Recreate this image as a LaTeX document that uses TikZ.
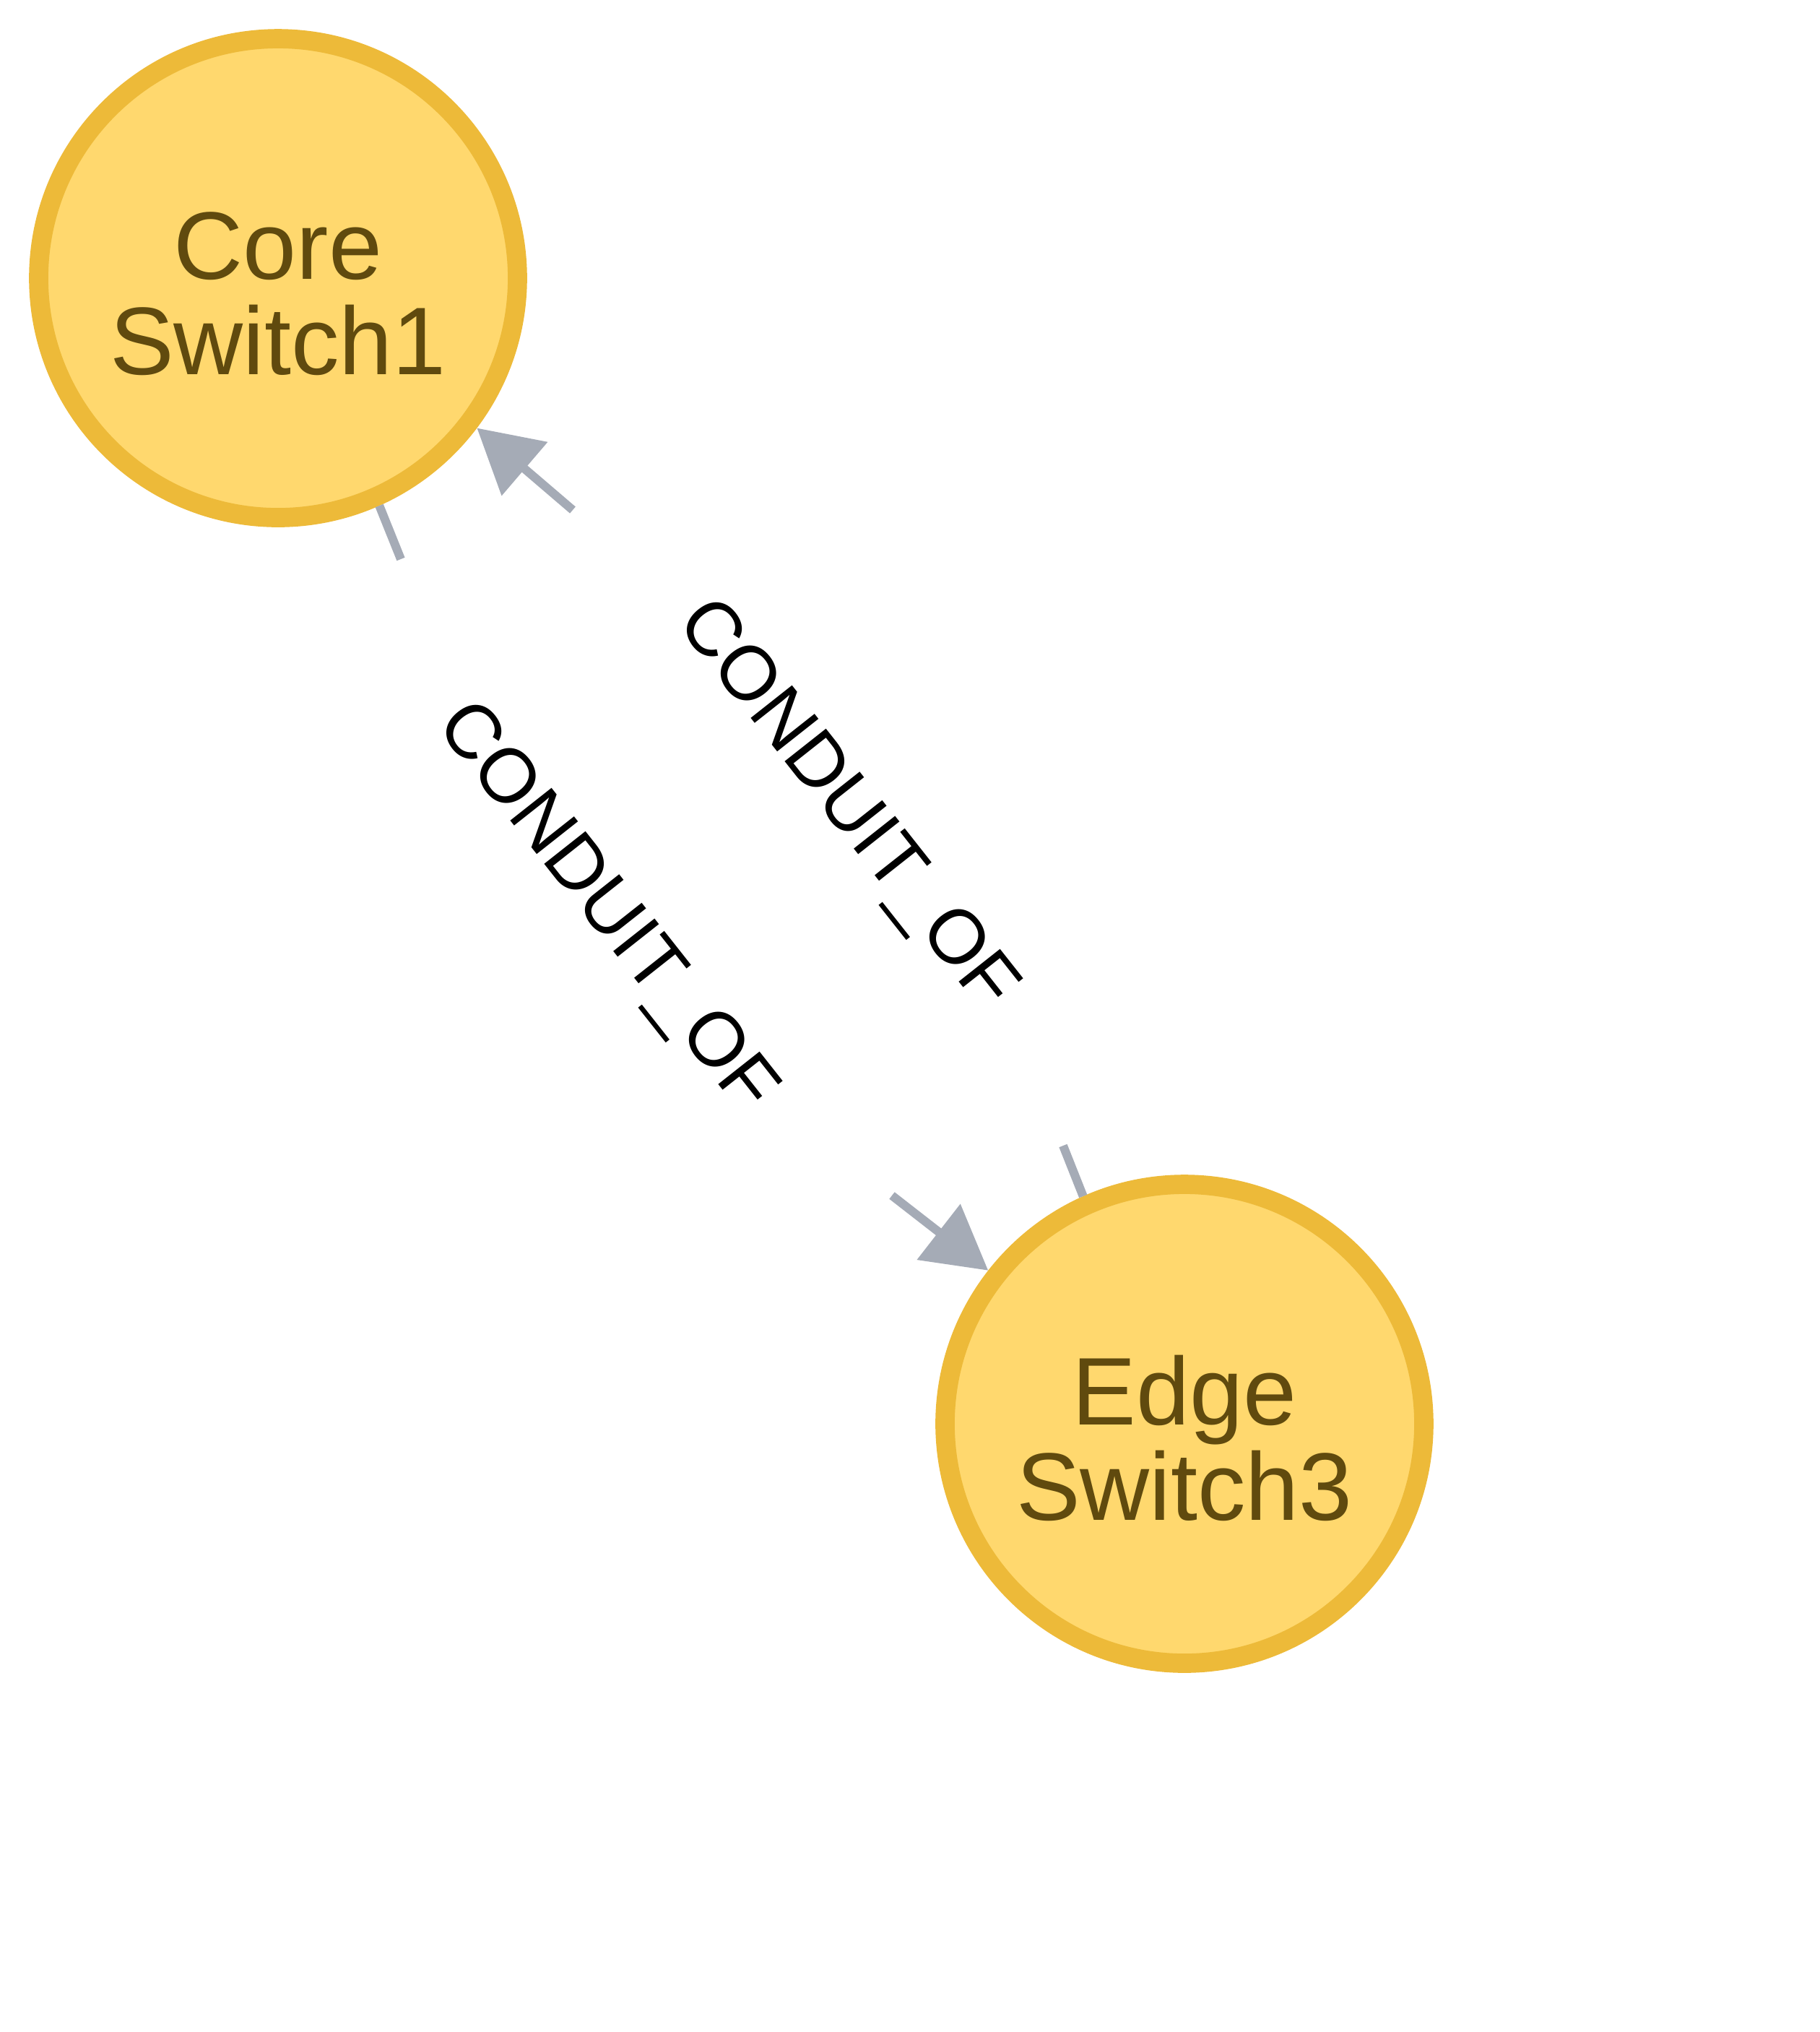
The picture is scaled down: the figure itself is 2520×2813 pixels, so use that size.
\documentclass[tikz,border=0pt]{standalone}
\usepackage{fontspec}
\setmainfont{Liberation Sans}
\usetikzlibrary{arrows.meta}
\definecolor{swfill}{HTML}{FFD86E}
\definecolor{swborder}{HTML}{EDBA39}
\definecolor{swtext}{HTML}{604A0E}
\definecolor{relgray}{HTML}{A5ABB6}
\begin{document}
\begin{tikzpicture}[x=0.1pt,y=-0.1pt,
  sw/.style={circle, draw=swborder, fill=swfill, line width=2.67pt, minimum size=66.3pt, inner sep=0pt},
  swlbl/.style={anchor=base, inner sep=0pt, text=swtext, font=\fontsize{13.3pt}{13.2pt}\selectfont},
  rel/.style={draw=relgray, line width=1.2pt},
  reltip/.style={-{Triangle[length=8.7pt,width=9.5pt]}, fill=relgray},
  rellbl/.style={anchor=base, inner sep=0pt, rotate=-51.7, text=black, font=\fontsize{10.6pt}{12pt}\selectfont}]
\useasboundingbox (0,0) rectangle (2520,2813);
% nodes
\node[sw] (core) at (385,385) {};
\node[swlbl] (coretop) at (385,386) {Core};
\node[swlbl] (corebot) at (385,518) {Switch1};
\node[sw] (edgesw) at (1640,1971) {};
\node[swlbl] (edgetop) at (1640,1972) {Edge};
\node[swlbl] (edgebot) at (1640,2104) {Switch3};
% free ends of the broken relationship lines
\coordinate (a1) at (555,774);
\coordinate (a2) at (1235,1655);
\coordinate (b1) at (1472,1586);
\coordinate (b2) at (793,706);
% Core Switch1 -> Edge Switch3
\draw[rel] (core.-66.8) -- (a1);
\draw[rel, reltip] (a2) -- (edgesw.142.2);
\node[rellbl] (lblA) at (816,1275) {CONDUIT\_OF};
% Edge Switch3 -> Core Switch1
\draw[rel] (edgesw.114.3) -- (b1);
\draw[rel, reltip] (b2) -- (core.-37.9);
\node[rellbl] (lblB) at (1149,1133) {CONDUIT\_OF};
\end{tikzpicture}
\end{document}
